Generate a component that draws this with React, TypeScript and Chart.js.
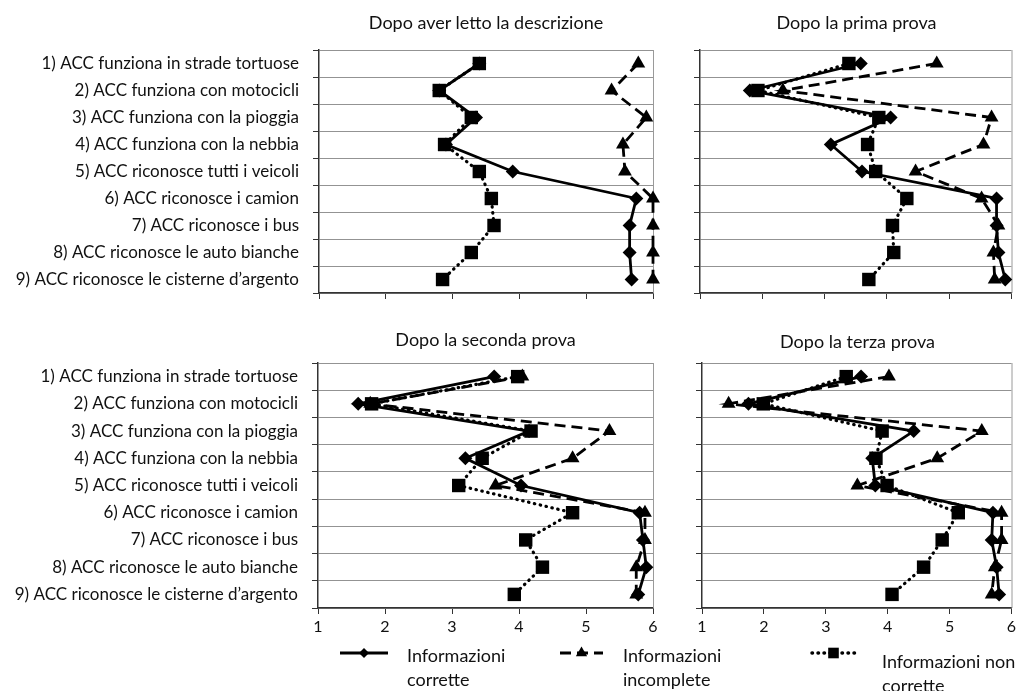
import React, { useEffect, useRef } from 'react';
import { Chart, registerables } from 'chart.js';

Chart.register(...registerables);

const categories = [
  '1) ACC funziona in strade tortuose',
  '2) ACC funziona con motocicli',
  '3) ACC funziona con la pioggia',
  '4) ACC funziona con la nebbia',
  '5) ACC riconosce tutti i veicoli',
  '6) ACC riconosce i camion',
  '7) ACC riconosce i bus',
  '8) ACC riconosce le auto bianche',
  '9) ACC riconosce le cisterne d\u2019argento',
];

const panelTitles = [
  'Dopo aver letto la descrizione',
  'Dopo la prima prova',
  'Dopo la seconda prova',
  'Dopo la terza prova',
];

const xTickValues = [1, 2, 3, 4, 5, 6];

const seriesNames = ['Informazioni corrette', 'Informazioni incomplete', 'Informazioni non corrette'];
const legendLines = [
  ['Informazioni', 'corrette'],
  ['Informazioni', 'incomplete'],
  ['Informazioni non', 'corrette'],
];

// Dopo aver letto la descrizione
const corretteP1 = [3.4, 2.8, 3.35, 2.9, 3.9, 5.75, 5.65, 5.65, 5.68];
const incompleteP1 = [5.78, 5.38, 5.9, 5.55, 5.58, 6.0, 6.0, 6.0, 6.0];
const nonCorretteP1 = [3.4, 2.8, 3.28, 2.88, 3.4, 3.58, 3.62, 3.28, 2.85];

// Dopo la prima prova
const corretteP2 = [3.58, 1.8, 4.06, 3.1, 3.6, 5.76, 5.76, 5.79, 5.9];
const incompleteP2 = [4.8, 2.33, 5.68, 5.55, 4.46, 5.52, 5.79, 5.71, 5.73];
const nonCorretteP2 = [3.39, 1.93, 3.87, 3.69, 3.82, 4.32, 4.09, 4.11, 3.71];

// Dopo la seconda prova
const corretteP3 = [3.63, 1.6, 4.15, 3.2, 4.03, 5.8, 5.85, 5.9, 5.78];
const incompleteP3 = [4.05, 1.78, 5.35, 4.8, 3.65, 5.88, 5.88, 5.75, 5.75];
const nonCorretteP3 = [3.98, 1.8, 4.18, 3.45, 3.1, 4.8, 4.1, 4.35, 3.93];

// Dopo la terza prova
const corretteP4 = [3.57, 1.75, 4.42, 3.75, 3.8, 5.7, 5.68, 5.76, 5.8];
const incompleteP4 = [4.02, 1.43, 5.52, 4.8, 3.51, 5.84, 5.84, 5.73, 5.68];
const nonCorretteP4 = [3.33, 1.99, 3.91, 3.81, 3.99, 5.14, 4.88, 4.58, 4.07];

const panelData = [
  [corretteP1, incompleteP1, nonCorretteP1],
  [corretteP2, incompleteP2, nonCorretteP2],
  [corretteP3, incompleteP3, nonCorretteP3],
  [corretteP4, incompleteP4, nonCorretteP4],
];

const FONT = 'Lato, "Open Sans", sans-serif';

const seriesStyles = [
  { borderDash: [] as number[], pointStyle: 'rectRot', pointRadius: 7, borderWidth: 2.8, cap: 'butt', order: 1, legendRadius: 5 },
  { borderDash: [11, 6], pointStyle: 'triangle', pointRadius: 8, borderWidth: 2.8, cap: 'butt', order: 2, legendRadius: 6.5 },
  { borderDash: [0.5, 5.5], pointStyle: 'rect', pointRadius: 9.5, borderWidth: 3.2, cap: 'round', order: 0, legendRadius: 7.5 },
];

// layout of each panel: canvas box and plot area (page coordinates)
const panels = [
  { cx: 0, cy: 0, cw: 665, ch: 305, left: 319, right: 653, top: 50, bottom: 293, showY: true, showX: false, titleY: 11 },
  { cx: 665, cy: 0, cw: 356, ch: 305, left: 700, right: 1013, top: 50, bottom: 293, showY: false, showX: false, titleY: 11 },
  { cx: 0, cy: 310, cw: 665, ch: 330, left: 318, right: 653, top: 363, bottom: 608, showY: true, showX: true, titleY: 328 },
  { cx: 665, cy: 310, cw: 356, ch: 330, left: 702, right: 1013, top: 363, bottom: 608, showY: false, showX: true, titleY: 330 },
];

const legendBox = { cx: 0, cy: 638, cw: 1021, ch: 53 };
const legendItems = [
  { x1: 340, x2: 388, y: 653, tx: 407, ty1: 656, ty2: 680 },
  { x1: 560, x2: 603, y: 653, tx: 623, ty1: 656, ty2: 680 },
  { x1: 812, x2: 855, y: 653, tx: 882, ty1: 662, ty2: 686 },
];

function drawMarker(ctx: CanvasRenderingContext2D, style: string, x: number, y: number, r: number) {
  ctx.beginPath();
  if (style === 'rectRot') {
    ctx.moveTo(x, y - r);
    ctx.lineTo(x + r, y);
    ctx.lineTo(x, y + r);
    ctx.lineTo(x - r, y);
  } else if (style === 'triangle') {
    ctx.moveTo(x, y - r);
    ctx.lineTo(x + r * 0.866, y + r * 0.5);
    ctx.lineTo(x - r * 0.866, y + r * 0.5);
  } else {
    const s = r * Math.SQRT1_2;
    ctx.rect(x - s, y - s, 2 * s, 2 * s);
  }
  ctx.closePath();
  ctx.fill();
}

const framePlugin = {
  id: 'frame',
  beforeDatasetsDraw(chart: any) {
    const { ctx, chartArea } = chart;
    ctx.save();
    ctx.strokeStyle = '#9a9a9a';
    ctx.lineWidth = 1;
    ctx.beginPath();
    ctx.moveTo(chartArea.right + 0.5, chartArea.top);
    ctx.lineTo(chartArea.right + 0.5, chartArea.bottom);
    ctx.stroke();
    ctx.restore();
  },
};

function Panel({ idx }: { idx: number }) {
  const ref = useRef<HTMLCanvasElement>(null);
  const p = panels[idx];
  useEffect(() => {
    if (!ref.current) return;
    const yw = p.left - p.cx;
    const xh = p.cy + p.ch - p.bottom;
    const chart = new Chart(ref.current, {
      type: 'line',
      data: {
        labels: categories,
        datasets: panelData[idx].map((vals, i) => ({
          label: seriesNames[i],
          data: vals,
          borderColor: '#000',
          backgroundColor: '#000',
          pointBackgroundColor: '#000',
          pointBorderColor: '#000',
          pointBorderWidth: 0,
          borderWidth: seriesStyles[i].borderWidth,
          borderDash: seriesStyles[i].borderDash,
          borderCapStyle: seriesStyles[i].cap as any,
          pointStyle: seriesStyles[i].pointStyle as any,
          pointRadius: seriesStyles[i].pointRadius,
          tension: 0,
          fill: false,
          clip: false,
          order: seriesStyles[i].order,
        })),
      },
      options: {
        indexAxis: 'y',
        responsive: false,
        animation: false,
        devicePixelRatio: 1,
        layout: { padding: { top: p.top - p.cy, right: p.cx + p.cw - p.right, left: 0, bottom: 0 } },
        plugins: { legend: { display: false }, tooltip: { enabled: false }, title: { display: false } },
        scales: {
          x: {
            type: 'linear',
            min: 1,
            max: 6,
            afterBuildTicks: (scale: any) => {
              scale.ticks = xTickValues.map((v) => ({ value: v }));
            },
            ticks: { display: p.showX, font: { family: FONT, size: 16 }, color: '#111', padding: 3 },
            grid: { drawOnChartArea: false, drawTicks: true, tickLength: 6, tickColor: '#333', color: '#333' },
            border: { color: '#333', width: 1.5 },
            afterFit: (s: any) => {
              s.height = xh;
            },
          },
          y: {
            type: 'category',
            offset: true,
            grid: { offset: true, color: '#939393', tickColor: '#333', tickLength: 6, lineWidth: 1 },
            ticks: { display: p.showY, font: { family: FONT, size: 17 }, color: '#111', padding: 14 },
            border: { color: '#333', width: 1.5 },
            afterFit: (s: any) => {
              s.width = yw;
              s.paddingTop = 0;
              s.paddingBottom = 0;
            },
          },
        },
      } as any,
      plugins: [framePlugin],
    });
    return () => chart.destroy();
  }, [idx]);
  return (
    <>
      <canvas
        ref={ref}
        width={p.cw}
        height={p.ch}
        style={{ position: 'absolute', left: p.cx, top: p.cy, width: p.cw, height: p.ch }}
      />
      <div
        style={{
          position: 'absolute',
          left: p.left,
          width: p.right - p.left,
          top: p.titleY,
          textAlign: 'center',
          fontFamily: FONT,
          fontSize: 18,
          lineHeight: '22px',
          color: '#111',
        }}
      >
        {panelTitles[idx]}
      </div>
    </>
  );
}

const legendPlugin = {
  id: 'customLegend',
  afterDraw(chart: any) {
    const { ctx } = chart;
    ctx.save();
    chart.data.datasets.forEach((ds: any, i: number) => {
      const it = legendItems[i];
      const st = seriesStyles[i];
      const oy = legendBox.cy;
      ctx.strokeStyle = '#000';
      ctx.fillStyle = '#000';
      ctx.lineWidth = st.borderWidth + 0.3;
      ctx.lineCap = st.cap;
      ctx.setLineDash(ds.borderDash || []);
      ctx.beginPath();
      ctx.moveTo(it.x1, it.y - oy);
      ctx.lineTo(it.x2, it.y - oy);
      ctx.stroke();
      ctx.setLineDash([]);
      drawMarker(ctx, st.pointStyle, (it.x1 + it.x2) / 2, it.y - oy, st.legendRadius);
      ctx.font = `18px ${FONT}`;
      ctx.textBaseline = 'middle';
      ctx.textAlign = 'left';
      ctx.fillStyle = '#111';
      ctx.fillText(legendLines[i][0], it.tx, it.ty1 - oy);
      ctx.fillText(legendLines[i][1], it.tx, it.ty2 - oy);
    });
    ctx.restore();
  },
};

function Legend() {
  const ref = useRef<HTMLCanvasElement>(null);
  useEffect(() => {
    if (!ref.current) return;
    const chart = new Chart(ref.current, {
      type: 'line',
      data: {
        labels: [],
        datasets: seriesNames.map((n, i) => ({
          label: n,
          data: [],
          borderColor: '#000',
          borderDash: seriesStyles[i].borderDash,
        })),
      },
      options: {
        responsive: false,
        animation: false,
        devicePixelRatio: 1,
        plugins: { legend: { display: false }, tooltip: { enabled: false } },
        scales: { x: { display: false }, y: { display: false } },
      } as any,
      plugins: [legendPlugin],
    });
    return () => chart.destroy();
  }, []);
  return (
    <canvas
      ref={ref}
      width={legendBox.cw}
      height={legendBox.ch}
      style={{ position: 'absolute', left: legendBox.cx, top: legendBox.cy, width: legendBox.cw, height: legendBox.ch }}
    />
  );
}

export default function App() {
  return (
    <div style={{ position: 'absolute', left: 0, top: 0, width: 1021, height: 691, background: '#fff', overflow: 'hidden' }}>
      {panels.map((_, i) => (
        <Panel key={i} idx={i} />
      ))}
      <Legend />
    </div>
  );
}
